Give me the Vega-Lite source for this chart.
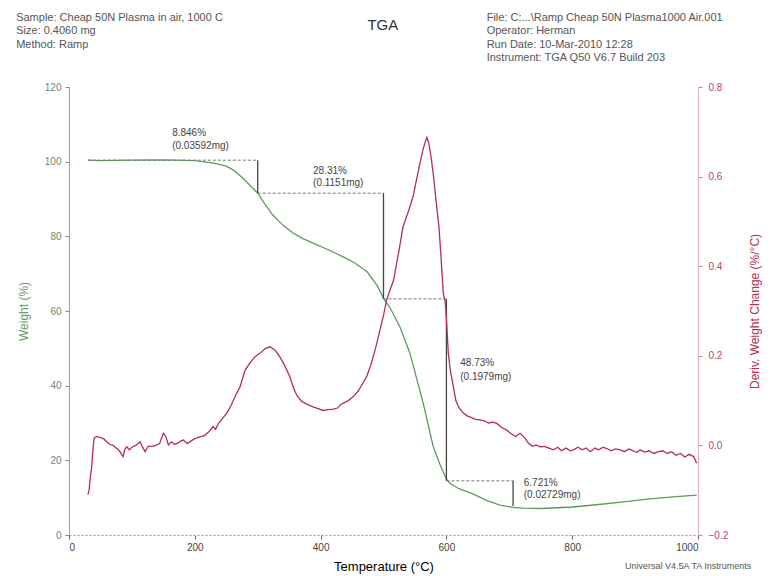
{
  "$schema": "https://vega.github.io/schema/vega-lite/v6.json",
  "width": 629,
  "height": 448,
  "autosize": "none",
  "padding": {"left": 69, "top": 87, "right": 74, "bottom": 41},
  "background": "white",
  "config": {
    "font": "Liberation Sans",
    "view": {"stroke": null},
    "axis": {"grid": false, "labelFont": "Liberation Sans", "titleFont": "Liberation Sans", "titleFontWeight": "normal", "labelFontSize": 10, "titleFontSize": 12, "tickSize": 4}
  },
  "datasets": {
    "weight": [
      {"T": 30, "W": 100.4}, {"T": 50, "W": 100.3}, {"T": 100, "W": 100.4}, {"T": 150, "W": 100.5}, {"T": 200, "W": 100.3},
      {"T": 230, "W": 99.6}, {"T": 250, "W": 98.8}, {"T": 261, "W": 97.8}, {"T": 275, "W": 95.8}, {"T": 288, "W": 93.6},
      {"T": 300, "W": 91.55}, {"T": 312, "W": 88.5}, {"T": 324, "W": 85.7}, {"T": 340, "W": 83.0}, {"T": 356, "W": 80.9},
      {"T": 372, "W": 79.4}, {"T": 388, "W": 78.2}, {"T": 412, "W": 76.4}, {"T": 436, "W": 74.5}, {"T": 455, "W": 72.8},
      {"T": 474, "W": 70.5}, {"T": 490, "W": 66.8}, {"T": 500, "W": 63.4}, {"T": 510, "W": 61.0}, {"T": 526, "W": 55.8},
      {"T": 542, "W": 48.7}, {"T": 563, "W": 35.4}, {"T": 579, "W": 23.7}, {"T": 590, "W": 18.8}, {"T": 600, "W": 15.0},
      {"T": 606, "W": 13.8}, {"T": 620, "W": 12.4}, {"T": 642, "W": 11.0}, {"T": 665, "W": 9.2}, {"T": 685, "W": 8.0},
      {"T": 706, "W": 7.4}, {"T": 722, "W": 7.2}, {"T": 750, "W": 7.1}, {"T": 801, "W": 7.5}, {"T": 850, "W": 8.3},
      {"T": 881, "W": 8.9}, {"T": 920, "W": 9.6}, {"T": 960, "W": 10.2}, {"T": 998, "W": 10.7}
    ],
    "deriv": [
      {"T": 30, "D": -0.11}, {"T": 32, "D": -0.10}, {"T": 34, "D": -0.07}, {"T": 36, "D": -0.05}, {"T": 38, "D": -0.01},
      {"T": 40, "D": 0.016}, {"T": 44, "D": 0.02}, {"T": 49, "D": 0.018}, {"T": 55, "D": 0.015}, {"T": 60, "D": 0.008},
      {"T": 65, "D": 0.002}, {"T": 70, "D": 0.0}, {"T": 75, "D": -0.006}, {"T": 80, "D": -0.012}, {"T": 86, "D": -0.025},
      {"T": 89, "D": -0.008}, {"T": 92, "D": -0.003}, {"T": 96, "D": -0.010}, {"T": 100, "D": -0.004}, {"T": 106, "D": 0.0},
      {"T": 113, "D": 0.008}, {"T": 117, "D": -0.004}, {"T": 121, "D": -0.014}, {"T": 126, "D": -0.002}, {"T": 132, "D": -0.002},
      {"T": 138, "D": 0.0}, {"T": 144, "D": 0.004}, {"T": 150, "D": 0.027}, {"T": 154, "D": 0.020}, {"T": 158, "D": 0.001},
      {"T": 163, "D": 0.008}, {"T": 168, "D": 0.002}, {"T": 174, "D": 0.006}, {"T": 178, "D": 0.010}, {"T": 182, "D": 0.012},
      {"T": 188, "D": 0.004}, {"T": 194, "D": 0.010}, {"T": 200, "D": 0.015}, {"T": 208, "D": 0.019}, {"T": 215, "D": 0.022},
      {"T": 222, "D": 0.030}, {"T": 229, "D": 0.042}, {"T": 233, "D": 0.036}, {"T": 238, "D": 0.050}, {"T": 245, "D": 0.062},
      {"T": 251, "D": 0.072}, {"T": 258, "D": 0.090}, {"T": 265, "D": 0.112}, {"T": 272, "D": 0.131}, {"T": 280, "D": 0.168},
      {"T": 288, "D": 0.185}, {"T": 296, "D": 0.198}, {"T": 304, "D": 0.206}, {"T": 312, "D": 0.216}, {"T": 320, "D": 0.220},
      {"T": 328, "D": 0.212}, {"T": 335, "D": 0.198}, {"T": 343, "D": 0.178}, {"T": 351, "D": 0.153}, {"T": 357, "D": 0.128},
      {"T": 362, "D": 0.112}, {"T": 370, "D": 0.098}, {"T": 378, "D": 0.092}, {"T": 388, "D": 0.086}, {"T": 396, "D": 0.082},
      {"T": 404, "D": 0.078}, {"T": 412, "D": 0.080}, {"T": 420, "D": 0.081}, {"T": 428, "D": 0.084}, {"T": 432, "D": 0.092},
      {"T": 436, "D": 0.094}, {"T": 444, "D": 0.100}, {"T": 452, "D": 0.109}, {"T": 460, "D": 0.122}, {"T": 466, "D": 0.136},
      {"T": 473, "D": 0.153}, {"T": 480, "D": 0.180}, {"T": 487, "D": 0.215}, {"T": 494, "D": 0.255}, {"T": 500, "D": 0.290},
      {"T": 505, "D": 0.325}, {"T": 510, "D": 0.345}, {"T": 516, "D": 0.369}, {"T": 524, "D": 0.430}, {"T": 531, "D": 0.488},
      {"T": 539, "D": 0.520}, {"T": 547, "D": 0.555}, {"T": 552, "D": 0.590}, {"T": 558, "D": 0.630}, {"T": 563, "D": 0.662},
      {"T": 567, "D": 0.680}, {"T": 569, "D": 0.688}, {"T": 572, "D": 0.675}, {"T": 576, "D": 0.640}, {"T": 580, "D": 0.595},
      {"T": 584, "D": 0.540}, {"T": 588, "D": 0.490}, {"T": 591, "D": 0.430}, {"T": 595, "D": 0.340}, {"T": 598, "D": 0.320},
      {"T": 600, "D": 0.285}, {"T": 603, "D": 0.206}, {"T": 606, "D": 0.170}, {"T": 611, "D": 0.131}, {"T": 615, "D": 0.100},
      {"T": 620, "D": 0.084}, {"T": 627, "D": 0.072}, {"T": 633, "D": 0.066}, {"T": 640, "D": 0.062}, {"T": 646, "D": 0.058},
      {"T": 653, "D": 0.057}, {"T": 660, "D": 0.055}, {"T": 667, "D": 0.050}, {"T": 674, "D": 0.052}, {"T": 680, "D": 0.049},
      {"T": 688, "D": 0.040}, {"T": 696, "D": 0.034}, {"T": 703, "D": 0.026}, {"T": 710, "D": 0.020}, {"T": 717, "D": 0.027},
      {"T": 724, "D": 0.018}, {"T": 731, "D": 0.004}, {"T": 737, "D": -0.002}, {"T": 743, "D": 0.001}, {"T": 749, "D": -0.003},
      {"T": 756, "D": -0.002}, {"T": 763, "D": -0.006}, {"T": 770, "D": -0.010}, {"T": 777, "D": -0.004}, {"T": 783, "D": -0.012},
      {"T": 790, "D": -0.006}, {"T": 797, "D": -0.012}, {"T": 802, "D": -0.010}, {"T": 809, "D": -0.004}, {"T": 816, "D": -0.010},
      {"T": 822, "D": -0.006}, {"T": 829, "D": -0.014}, {"T": 836, "D": -0.006}, {"T": 842, "D": -0.010}, {"T": 849, "D": -0.004},
      {"T": 855, "D": -0.007}, {"T": 862, "D": -0.012}, {"T": 869, "D": -0.008}, {"T": 876, "D": -0.010}, {"T": 883, "D": -0.014},
      {"T": 890, "D": -0.008}, {"T": 897, "D": -0.012}, {"T": 903, "D": -0.016}, {"T": 908, "D": -0.010}, {"T": 915, "D": -0.015},
      {"T": 922, "D": -0.012}, {"T": 930, "D": -0.018}, {"T": 937, "D": -0.014}, {"T": 944, "D": -0.012}, {"T": 951, "D": -0.018},
      {"T": 958, "D": -0.014}, {"T": 965, "D": -0.022}, {"T": 972, "D": -0.018}, {"T": 979, "D": -0.026}, {"T": 986, "D": -0.020},
      {"T": 993, "D": -0.025}, {"T": 998, "D": -0.040}
    ],
    "levels": [
      {"step": "a", "T1": 30, "T2": 300, "W": 100.4},
      {"step": "b", "T1": 300, "T2": 500, "W": 91.55},
      {"step": "c", "T1": 500, "T2": 600, "W": 63.24},
      {"step": "d", "T1": 600, "T2": 706, "W": 14.51}
    ],
    "drops": [
      {"T": 300, "W1": 100.4, "W2": 91.55},
      {"T": 500, "W1": 91.55, "W2": 63.24},
      {"T": 600, "W1": 63.24, "W2": 14.51},
      {"T": 706, "W1": 14.51, "W2": 7.79}
    ],
    "labels": [
      {"T": 164, "W": 107.7, "text": "8.846%"},
      {"T": 164, "W": 104.2, "text": "(0.03592mg)"},
      {"T": 388, "W": 97.6, "text": "28.31%"},
      {"T": 388, "W": 94.3, "text": "(0.1151mg)"},
      {"T": 622, "W": 46.1, "text": "48.73%"},
      {"T": 622, "W": 42.3, "text": "(0.1979mg)"},
      {"T": 723, "W": 13.9, "text": "6.721%"},
      {"T": 723, "W": 10.7, "text": "(0.02729mg)"}
    ],
    "headLeft": [
      {"T": -84, "W": 138.5, "text": "Sample: Cheap 50N Plasma in air, 1000 C"},
      {"T": -84, "W": 135.0, "text": "Size:  0.4060 mg"},
      {"T": -84, "W": 131.3, "text": "Method: Ramp"}
    ],
    "headRight": [
      {"T": 664, "W": 138.5, "text": "File: C:...\\Ramp Cheap 50N Plasma1000 Air.001"},
      {"T": 664, "W": 135.0, "text": "Operator: Herman"},
      {"T": 664, "W": 131.3, "text": "Run Date: 10-Mar-2010 12:28"},
      {"T": 664, "W": 127.8, "text": "Instrument: TGA Q50 V6.7 Build 203"}
    ],
    "titleRow": [{"T": 499, "W": 136.6, "text": "TGA"}],
    "footer": [{"T": 884, "W": -8.3, "text": "Universal V4.5A TA Instruments"}]
  },
  "resolve": {"scale": {"y": "independent"}},
  "layer": [
    {
      "layer": [
        {
          "data": {"name": "weight"},
          "mark": {"type": "line", "color": "#5e9a5e", "strokeWidth": 1.3},
          "encoding": {
            "x": {"field": "T", "type": "quantitative", "scale": {"domain": [0, 1000], "nice": false},
                  "axis": {"title": "Temperature (°C)", "values": [0, 200, 400, 600, 800, 1000], "format": "d", "titleFontSize": 13, "titlePadding": 8, "labelColor": "#444", "domainColor": "#999", "domainDash": [2, 2], "tickColor": "#666", "labelPadding": 3}},
            "y": {"field": "W", "type": "quantitative", "scale": {"domain": [0, 120], "nice": false},
                  "axis": {"title": "Weight (%)", "values": [0, 20, 40, 60, 80, 100, 120], "titleColor": "#6a9a6a", "labelColor": "#6a8a78", "domainColor": "#8ab08a", "tickColor": "#888", "titlePadding": 14, "labelPadding": 4}}
          }
        },
        {
          "data": {"name": "levels"},
          "mark": {"type": "rule", "color": "#777", "strokeWidth": 1, "strokeDash": [3, 2]},
          "encoding": {
            "x": {"field": "T1", "type": "quantitative"},
            "x2": {"field": "T2"},
            "y": {"field": "W", "type": "quantitative", "title": "Weight (%)"}
          }
        },
        {
          "data": {"name": "drops"},
          "mark": {"type": "rule", "color": "#444", "strokeWidth": 1.3},
          "encoding": {
            "x": {"field": "T", "type": "quantitative"},
            "y": {"field": "W1", "type": "quantitative", "title": "Weight (%)"},
            "y2": {"field": "W2"}
          }
        },
        {
          "data": {"name": "labels"},
          "mark": {"type": "text", "align": "left", "baseline": "middle", "fontSize": 10, "color": "#444"},
          "encoding": {
            "x": {"field": "T", "type": "quantitative"},
            "y": {"field": "W", "type": "quantitative", "title": "Weight (%)"},
            "text": {"field": "text"}
          }
        },
        {
          "data": {"name": "headLeft"},
          "mark": {"type": "text", "align": "left", "baseline": "middle", "fontSize": 11, "color": "#555"},
          "encoding": {
            "x": {"field": "T", "type": "quantitative"},
            "y": {"field": "W", "type": "quantitative", "title": "Weight (%)"},
            "text": {"field": "text"}
          }
        },
        {
          "data": {"name": "headRight"},
          "mark": {"type": "text", "align": "left", "baseline": "middle", "fontSize": 11, "color": "#555"},
          "encoding": {
            "x": {"field": "T", "type": "quantitative"},
            "y": {"field": "W", "type": "quantitative", "title": "Weight (%)"},
            "text": {"field": "text"}
          }
        },
        {
          "data": {"name": "titleRow"},
          "mark": {"type": "text", "align": "center", "baseline": "middle", "fontSize": 15, "color": "#333"},
          "encoding": {
            "x": {"field": "T", "type": "quantitative"},
            "y": {"field": "W", "type": "quantitative", "title": "Weight (%)"},
            "text": {"field": "text"}
          }
        },
        {
          "data": {"name": "footer"},
          "mark": {"type": "text", "align": "left", "baseline": "middle", "fontSize": 9, "color": "#555"},
          "encoding": {
            "x": {"field": "T", "type": "quantitative"},
            "y": {"field": "W", "type": "quantitative", "title": "Weight (%)"},
            "text": {"field": "text"}
          }
        }
      ]
    },
    {
      "data": {"name": "deriv"},
      "mark": {"type": "line", "color": "#b3304e", "strokeWidth": 1.3},
      "encoding": {
        "x": {"field": "T", "type": "quantitative"},
        "y": {"field": "D", "type": "quantitative", "scale": {"domain": [-0.2, 0.8], "nice": false},
              "axis": {"orient": "right", "title": "Deriv. Weight Change (%/°C)", "titleAngle": 270, "titleBaseline": "bottom", "values": [-0.2, 0, 0.2, 0.4, 0.6, 0.8], "format": ".1f", "titleColor": "#b3304e", "labelColor": "#c0406a", "domainColor": "#e0b0c0", "tickColor": "#999", "titlePadding": 34, "labelPadding": 6}}
      }
    }
  ]
}
